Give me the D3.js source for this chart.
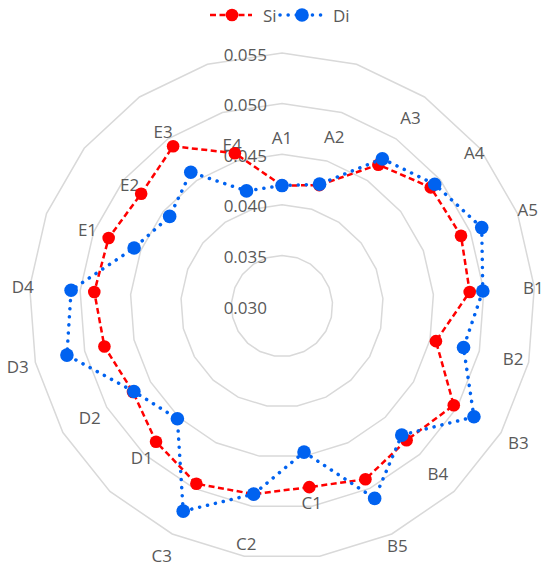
<!DOCTYPE html>
<html>
<head>
<meta charset="utf-8">
<script src="https://cdn.jsdelivr.net/npm/d3@7"></script>
<style>
  html, body { margin: 0; padding: 0; background: #fff; }
  svg { display: block; font-family: "Open Sans", sans-serif; }
</style>
</head>
<body>
<div id="chart"></div>
<script>
const categories = ['A1', 'A2', 'A3', 'A4', 'A5', 'B1', 'B2', 'B3', 'B4', 'B5',
  'C1', 'C2', 'C3', 'D1', 'D2', 'D3', 'D4', 'E1', 'E2', 'E3', 'E4'];
const siValues = [0.0419, 0.0425, 0.0469, 0.0488, 0.0490, 0.0486, 0.0456, 0.0496, 0.0481, 0.0490,
  0.0481, 0.0488, 0.0495, 0.0483, 0.0470, 0.0480, 0.0486, 0.0484, 0.0478, 0.0491, 0.0458];
const diValues = [0.0419, 0.0426, 0.0476, 0.0493, 0.0512, 0.0499, 0.0484, 0.0519, 0.0474, 0.0511,
  0.0446, 0.0488, 0.0525, 0.0452, 0.0469, 0.0518, 0.0509, 0.0457, 0.0442, 0.0460, 0.0419];
const tickValues = [0.030, 0.035, 0.040, 0.045, 0.050, 0.055];

// layout only: how far out each category label sits (px from centre)
const labelRadius = [169, 177, 228, 246, 264, 252, 237, 273, 229, 266,
  199, 240, 277, 206, 222, 271, 260, 209, 195, 211, 169];

const width = 550;
const height = 574;
const center = { x: 282, y: 306 };
const outerRadius = 253;
const textColor = '#595959';

const svg = d3.select('#chart').append('svg')
  .attr('width', width)
  .attr('height', height);

const r = d3.scaleLinear().domain([0.030, 0.055]).range([0, outerRadius]);
const angle = i => i * 2 * Math.PI / categories.length;

const g = svg.append('g').attr('transform', `translate(${center.x},${center.y})`);

// grid rings (21-gons)
const ringLine = d3.lineRadial()
  .angle((d, i) => angle(i))
  .radius(d => r(d))
  .curve(d3.curveLinearClosed);

g.selectAll('path.ring')
  .data(tickValues.filter(v => v > 0.030))
  .join('path')
  .attr('class', 'ring')
  .attr('d', v => ringLine(categories.map(() => v)))
  .attr('fill', 'none')
  .attr('stroke', '#d9d9d9')
  .attr('stroke-width', 1.5);

// value labels up the first axis
g.selectAll('text.tick')
  .data(tickValues)
  .join('text')
  .attr('class', 'tick')
  .attr('x', -15)
  .attr('y', v => -r(v) + 1)
  .attr('text-anchor', 'end')
  .attr('dominant-baseline', 'central')
  .attr('font-size', 17)
  .attr('fill', textColor)
  .text(d3.format('.3f'));

// category labels
g.selectAll('text.cat')
  .data(categories)
  .join('text')
  .attr('class', 'cat')
  .attr('x', (d, i) => labelRadius[i] * Math.sin(angle(i)))
  .attr('y', (d, i) => -labelRadius[i] * Math.cos(angle(i)))
  .attr('text-anchor', 'middle')
  .attr('dominant-baseline', 'central')
  .attr('font-size', 17)
  .attr('fill', textColor)
  .text(d => d);

const series = [
  { name: 'Si', values: siValues, color: '#ff0000', width: 2.5, dash: '6 3.5', cap: 'butt', marker: 6.3 },
  { name: 'Di', values: diValues, color: '#0062f0', width: 3.5, dash: '0.1 8', cap: 'round', marker: 6.8 }
];

const dataLine = d3.lineRadial()
  .angle((d, i) => angle(i))
  .radius(d => r(d))
  .curve(d3.curveLinearClosed);

series.forEach(s => {
  const sg = g.append('g');
  sg.append('path')
    .attr('d', dataLine(s.values))
    .attr('fill', 'none')
    .attr('stroke', s.color)
    .attr('stroke-width', s.width)
    .attr('stroke-dasharray', s.dash)
    .attr('stroke-linecap', s.cap);
  sg.selectAll('circle')
    .data(s.values)
    .join('circle')
    .attr('cx', (d, i) => r(d) * Math.sin(angle(i)))
    .attr('cy', (d, i) => -r(d) * Math.cos(angle(i)))
    .attr('r', s.marker)
    .attr('fill', s.color);
});

// legend
const legend = svg.append('g');
const legendItems = [
  { s: series[0], x: 210 },
  { s: series[1], x: 280 }
];
legendItems.forEach(({ s, x }) => {
  legend.append('line')
    .attr('x1', x).attr('x2', x + 42)
    .attr('y1', 15).attr('y2', 15)
    .attr('stroke', s.color)
    .attr('stroke-width', s.width)
    .attr('stroke-dasharray', s.dash)
    .attr('stroke-linecap', s.cap);
  legend.append('circle')
    .attr('cx', x + 22).attr('cy', 15)
    .attr('r', s.marker)
    .attr('fill', s.color);
  legend.append('text')
    .attr('x', x + 53)
    .attr('y', 15)
    .attr('dominant-baseline', 'central')
    .attr('font-size', 17)
    .attr('fill', textColor)
    .text(s.name);
});
</script>
</body>
</html>
